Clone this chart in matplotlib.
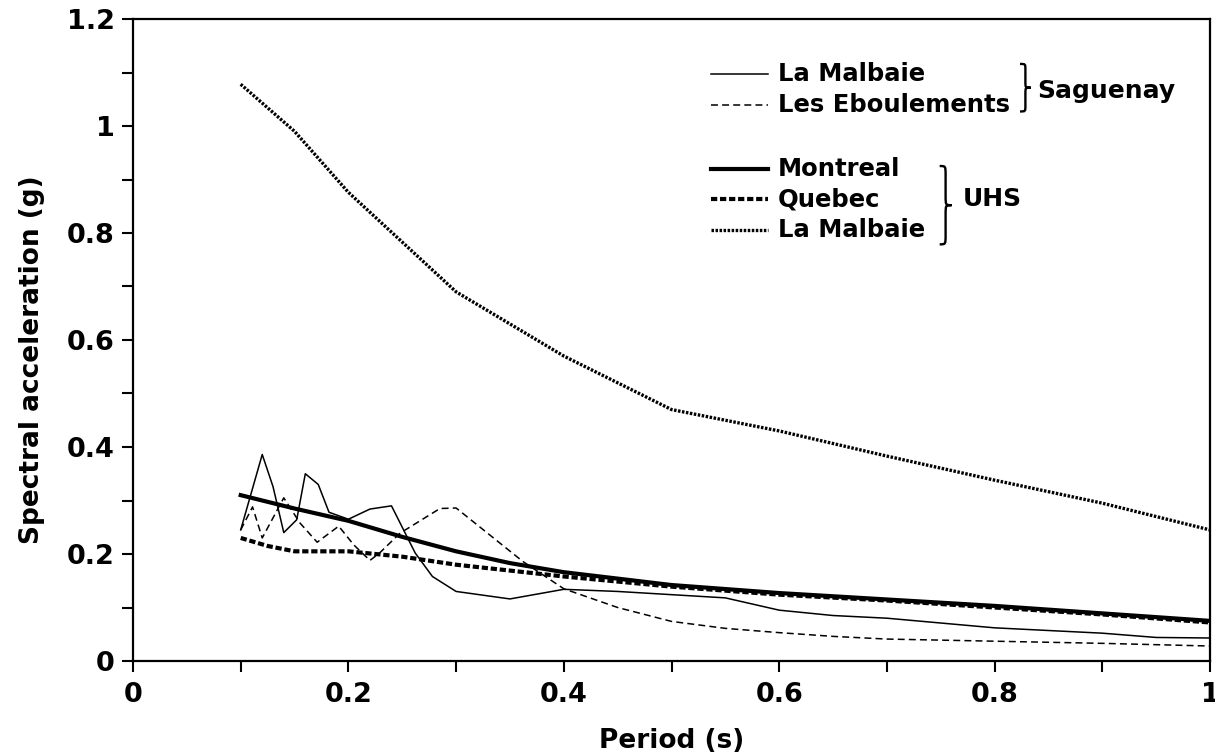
import matplotlib
matplotlib.use("Agg")
import matplotlib.pyplot as plt
from matplotlib.path import Path
from matplotlib.patches import PathPatch
from matplotlib.ticker import MultipleLocator, FuncFormatter

plt.rcParams['font.family'] = ['DejaVu Sans']
plt.rcParams['lines.scale_dashes'] = False

# Saguenay records
malbaie_x = [0.1, 0.12, 0.13, 0.14, 0.152, 0.16, 0.172, 0.182, 0.2, 0.22, 0.24, 0.262,
             0.278, 0.3, 0.35, 0.4, 0.45, 0.5, 0.55, 0.6, 0.65, 0.7, 0.8, 0.9, 0.95, 1.0]
malbaie_y = [0.245, 0.386, 0.326, 0.240, 0.264, 0.350, 0.330, 0.278, 0.265, 0.284, 0.290, 0.202,
             0.158, 0.130, 0.116, 0.134, 0.130, 0.124, 0.118, 0.095, 0.085, 0.080, 0.062, 0.052, 0.044, 0.043]

ebo_x = [0.1, 0.111, 0.12, 0.14, 0.155, 0.171, 0.191, 0.205, 0.22, 0.229, 0.248, 0.285, 0.3,
         0.362, 0.4, 0.45, 0.5, 0.55, 0.6, 0.65, 0.7, 0.8, 0.9, 1.0]
ebo_y = [0.245, 0.288, 0.230, 0.305, 0.258, 0.222, 0.252, 0.217, 0.188, 0.202, 0.239, 0.285, 0.286,
         0.186, 0.135, 0.100, 0.074, 0.061, 0.053, 0.046, 0.041, 0.037, 0.033, 0.028]

# UHS spectra
montreal_x = [0.1, 0.15, 0.2, 0.25, 0.3, 0.35, 0.4, 0.5, 0.6, 0.7, 0.8, 0.9, 1.0]
montreal_y = [0.31, 0.285, 0.262, 0.232, 0.205, 0.183, 0.166, 0.142, 0.127, 0.115, 0.103, 0.089, 0.075]

quebec_x = [0.1, 0.125, 0.15, 0.2, 0.25, 0.3, 0.4, 0.5, 0.6, 0.7, 0.8, 0.9, 1.0]
quebec_y = [0.23, 0.215, 0.205, 0.205, 0.195, 0.18, 0.158, 0.139, 0.124, 0.113, 0.1, 0.087, 0.072]

uhs_malbaie_x = [0.1, 0.15, 0.2, 0.3, 0.4, 0.5, 0.6, 0.7, 0.8, 0.9, 1.0]
uhs_malbaie_y = [1.078, 0.99, 0.876, 0.69, 0.57, 0.47, 0.43, 0.383, 0.338, 0.295, 0.245]

styles = {
    'sag_malbaie': dict(color='black', lw=1.1, ls='-'),
    'ebo': dict(color='black', lw=1.1, ls=(0, (5, 3))),
    'montreal': dict(color='black', lw=3.0, ls='-'),
    'quebec': dict(color='black', lw=3.0, ls=(0, (4.5, 2.0))),
    'uhs_malbaie': dict(color='black', lw=2.4, ls=(0, (1.8, 1.1))),
}

fig = plt.figure(figsize=(12.15, 7.55), dpi=100)
ax = fig.add_axes([133/1215, 94/755, 1077/1215, 642/755])

ax.plot(malbaie_x, malbaie_y, **styles['sag_malbaie'])
ax.plot(ebo_x, ebo_y, **styles['ebo'])
ax.plot(montreal_x, montreal_y, **styles['montreal'])
ax.plot(quebec_x, quebec_y, **styles['quebec'])
ax.plot(uhs_malbaie_x, uhs_malbaie_y, **styles['uhs_malbaie'])

ax.set_xlim(0, 1)
ax.set_ylim(0, 1.2)
ax.xaxis.set_major_locator(MultipleLocator(0.2))
ax.xaxis.set_minor_locator(MultipleLocator(0.1))
ax.yaxis.set_major_locator(MultipleLocator(0.2))
ax.yaxis.set_minor_locator(MultipleLocator(0.1))
fmt = FuncFormatter(lambda v, p: '%g' % round(v, 2))
ax.xaxis.set_major_formatter(fmt)
ax.yaxis.set_major_formatter(fmt)
ax.tick_params(which='both', direction='out', length=8, width=1.5)
ax.tick_params(axis='y', labelsize=19.5, pad=5)
ax.tick_params(axis='x', labelsize=19.5, pad=7)
for lab in ax.get_xticklabels() + ax.get_yticklabels():
    lab.set_fontweight('bold')
for s in ax.spines.values():
    s.set_linewidth(1.6)

ax.set_xlabel('Period (s)', fontsize=19, fontweight='bold')
ax.set_ylabel('Spectral acceleration (g)', fontsize=19, fontweight='bold')
ax.xaxis.set_label_coords(0.5, -0.105)
ax.yaxis.set_label_coords(-0.082, 0.47)

# hand-made legend with braces
legend_rows = [
    ('La Malbaie', 'sag_malbaie', 0.914),
    ('Les Eboulements', 'ebo', 0.866),
    ('Montreal', 'montreal', 0.766),
    ('Quebec', 'quebec', 0.719),
    ('La Malbaie', 'uhs_malbaie', 0.672),
]
for label, key, yy in legend_rows:
    ax.plot([0.537, 0.590], [yy, yy], transform=ax.transAxes, **styles[key])
    ax.text(0.599, yy, label, transform=ax.transAxes, fontsize=17.5, fontweight='bold',
            ha='left', va='center')


def brace(x0, ytop, ybot, w, lw=1.7):
    xm = x0 + w / 2
    xt = x0 + w
    ym = (ytop + ybot) / 2
    q = 0.12 * (ytop - ybot)
    verts = [(x0, ytop), (xm, ytop), (xm, ytop), (xm, ytop - q),
             (xm, ym + q),
             (xm, ym), (xm, ym), (xt, ym),
             (xm, ym), (xm, ym), (xm, ym - q),
             (xm, ybot + q),
             (xm, ybot), (xm, ybot), (x0, ybot)]
    codes = [Path.MOVETO, Path.CURVE4, Path.CURVE4, Path.CURVE4,
             Path.LINETO,
             Path.CURVE4, Path.CURVE4, Path.CURVE4,
             Path.CURVE4, Path.CURVE4, Path.CURVE4,
             Path.LINETO,
             Path.CURVE4, Path.CURVE4, Path.CURVE4]
    ax.add_patch(PathPatch(Path(verts, codes), transform=ax.transAxes, fill=False,
                           lw=lw, color='black', clip_on=False))


brace(0.8236, 0.930, 0.856, 0.010)
ax.text(0.840, 0.888, 'Saguenay', transform=ax.transAxes, fontsize=18, fontweight='bold',
        ha='left', va='center')
brace(0.749, 0.771, 0.649, 0.011)
ax.text(0.770, 0.719, 'UHS', transform=ax.transAxes, fontsize=18, fontweight='bold',
        ha='left', va='center')

fig.savefig('out.png', dpi=100)
